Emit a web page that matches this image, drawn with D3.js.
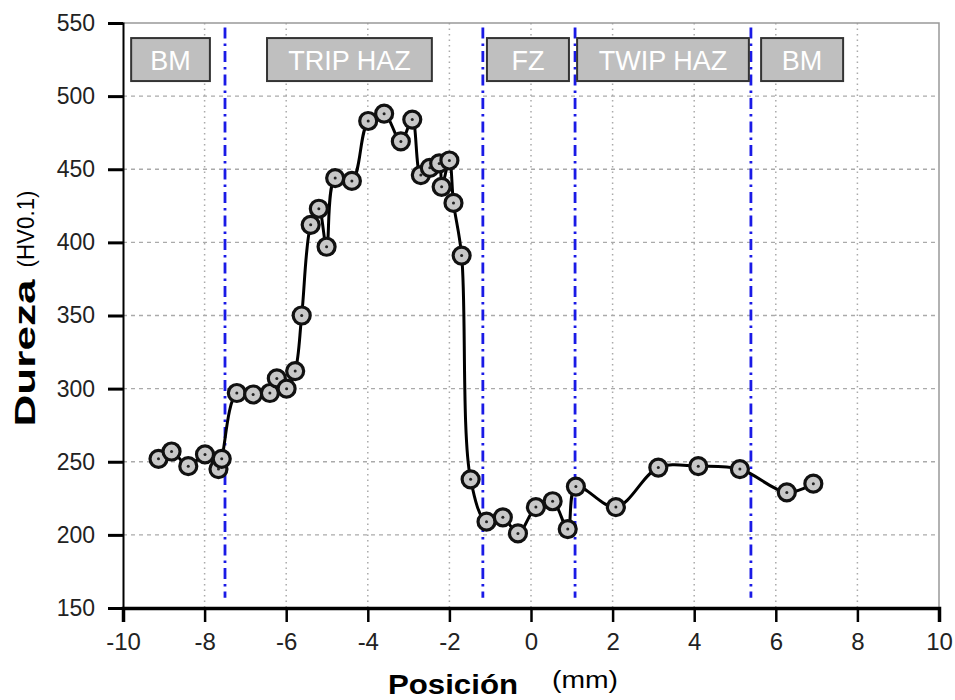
<!DOCTYPE html>
<html lang="en">
<head>
<meta charset="UTF-8">
<title>Dureza vs Posición</title>
<script src="https://d3js.org/d3.v7.min.js"></script>
<style>
  body { margin: 0; background: #fff; }
  text { font-family: "Liberation Sans", Arial, sans-serif; }
</style>
</head>
<body>
<div id="chart"></div>
<script>
// hardness profile
const posMm = [-9.13, -8.81, -8.40, -7.99, -7.66, -7.58, -7.21, -6.81, -6.40, -6.23, -5.99, -5.78,
  -5.62, -5.40, -5.20, -5.01, -4.80, -4.39, -3.99, -3.60, -3.19, -2.91, -2.70, -2.48, -2.25, -2.19,
  -2.00, -1.90, -1.70, -1.48, -1.09, -0.69, -0.32, 0.12, 0.53, 0.90, 1.10, 2.08, 3.12, 4.10, 5.12, 6.27, 6.92];
const hardness = [252, 257, 247, 255, 245, 252, 297, 296, 297, 307, 300, 312,
  350, 412, 423, 397, 444, 442, 483, 488, 469, 484, 446, 451, 454, 438,
  456, 427, 391, 238, 209, 212, 201, 219, 223, 204, 233, 219, 246, 247, 245, 229, 235];

// zone boundaries (dash-dot lines)
const boundaries = [-7.5, -1.18, 1.08, 5.39];

// zone labels
const zoneNames = ["BM", "TRIP HAZ", "FZ", "TWIP HAZ", "BM"];
const zoneStart = [-9.8, -6.47, -1.08, 1.13, 5.64];
const zoneEnd = [-7.87, -2.43, 0.93, 5.34, 7.65];

const xTicks = [-10, -8, -6, -4, -2, 0, 2, 4, 6, 8, 10];
const yTicks = [150, 200, 250, 300, 350, 400, 450, 500, 550];

const margin = { top: 23, right: 16, bottom: 92, left: 123 };
const W = 955, H = 700;
const width = W - margin.left - margin.right;
const height = H - margin.top - margin.bottom;

const svg = d3.select("#chart").append("svg")
  .attr("width", W)
  .attr("height", H);

const g = svg.append("g")
  .attr("transform", `translate(${margin.left},${margin.top})`);

const x = d3.scaleLinear().domain([-10, 10]).range([0, width]);
const y = d3.scaleLinear().domain([150, 550]).range([height, 0]);

// grid
g.selectAll(".vgrid")
  .data(xTicks.slice(1, -1))
  .enter().append("line")
  .attr("x1", d => x(d)).attr("x2", d => x(d))
  .attr("y1", 0).attr("y2", height)
  .attr("stroke", "#aaa")
  .attr("stroke-width", 1.5)
  .attr("stroke-dasharray", "1.5,4");

g.selectAll(".hgrid")
  .data(yTicks.slice(1, -1))
  .enter().append("line")
  .attr("x1", 0).attr("x2", width)
  .attr("y1", d => y(d)).attr("y2", d => y(d))
  .attr("stroke", "#aaa")
  .attr("stroke-width", 1.3)
  .attr("stroke-dasharray", "4,4");

// top / right frame
g.append("path")
  .attr("d", `M0,0H${width}V${height}`)
  .attr("fill", "none")
  .attr("stroke", "#999")
  .attr("stroke-width", 1.5);

// boundary lines
g.selectAll(".bound")
  .data(boundaries)
  .enter().append("line")
  .attr("x1", d => x(d)).attr("x2", d => x(d))
  .attr("y1", y(547)).attr("y2", y(157))
  .attr("stroke", "#1a1ae6")
  .attr("stroke-width", 2.8)
  .attr("stroke-dasharray", "11,5,2.5,5");

// zone label boxes
const zones = zoneNames.map((n, i) => ({ name: n, x0: zoneStart[i], x1: zoneEnd[i] }));
const zg = g.selectAll(".zone").data(zones).enter().append("g");
zg.append("rect")
  .attr("x", d => x(d.x0))
  .attr("y", y(539.7))
  .attr("width", d => x(d.x1) - x(d.x0))
  .attr("height", y(510.3) - y(539.7))
  .attr("fill", "#bfbfbf")
  .attr("stroke", "#333")
  .attr("stroke-width", 2);
zg.append("text")
  .attr("x", d => (x(d.x0) + x(d.x1)) / 2)
  .attr("y", y(525) + 10)
  .attr("text-anchor", "middle")
  .attr("fill", "#fff")
  .style("font-size", "27px")
  .text(d => d.name);

// curve
const pts = posMm.map((p, i) => ({ p, h: hardness[i] }));
const line = d3.line()
  .x(d => x(d.p))
  .y(d => y(d.h))
  .curve(d3.curveCatmullRom.alpha(0.5));

g.append("path")
  .datum(pts)
  .attr("d", line)
  .attr("fill", "none")
  .attr("stroke", "#000")
  .attr("stroke-width", 3);

// markers
g.selectAll(".pt")
  .data(pts)
  .enter().append("circle")
  .attr("cx", d => x(d.p))
  .attr("cy", d => y(d.h))
  .attr("r", 8.5)
  .attr("fill", "#c8c8c8")
  .attr("stroke", "#111")
  .attr("stroke-width", 3.2);

g.selectAll(".dot")
  .data(pts)
  .enter().append("circle")
  .attr("cx", d => x(d.p))
  .attr("cy", d => y(d.h))
  .attr("r", 1.5)
  .attr("fill", "#222");

// axes
const xAxis = g.append("g")
  .attr("transform", `translate(0,${height})`)
  .call(d3.axisBottom(x).tickValues(xTicks).tickSize(14).tickPadding(11).tickFormat(d => String(d)));
xAxis.select(".domain").attr("stroke-width", 3.5);
xAxis.selectAll(".tick line").attr("stroke-width", 2.5);
xAxis.selectAll("text").style("font-size", "24px").attr("fill", "#222");

const yAxis = g.append("g")
  .call(d3.axisLeft(y).tickValues(yTicks).tickSize(15).tickPadding(13));
yAxis.select(".domain").attr("stroke-width", 2);
yAxis.selectAll(".tick line").attr("stroke-width", 3);
yAxis.selectAll("text").style("font-size", "23px").attr("fill", "#222");

// axis titles
svg.append("text")
  .attr("x", 453)
  .attr("y", 694)
  .attr("text-anchor", "middle")
  .attr("textLength", 130)
  .attr("lengthAdjust", "spacingAndGlyphs")
  .style("font-size", "28px")
  .style("font-weight", "bold")
  .text("Posición");

svg.append("text")
  .attr("x", 585)
  .attr("y", 688)
  .attr("text-anchor", "middle")
  .attr("textLength", 66)
  .attr("lengthAdjust", "spacingAndGlyphs")
  .style("font-size", "23px")
  .text("(mm)");

svg.append("text")
  .attr("transform", "translate(35,353) rotate(-90)")
  .attr("text-anchor", "middle")
  .attr("textLength", 147)
  .attr("lengthAdjust", "spacingAndGlyphs")
  .style("font-size", "30px")
  .style("font-weight", "bold")
  .text("Dureza");

svg.append("text")
  .attr("transform", "translate(34,229) rotate(-90)")
  .attr("text-anchor", "middle")
  .attr("textLength", 77)
  .attr("lengthAdjust", "spacingAndGlyphs")
  .style("font-size", "24px")
  .text("(HV0.1)");
</script>
</body>
</html>
